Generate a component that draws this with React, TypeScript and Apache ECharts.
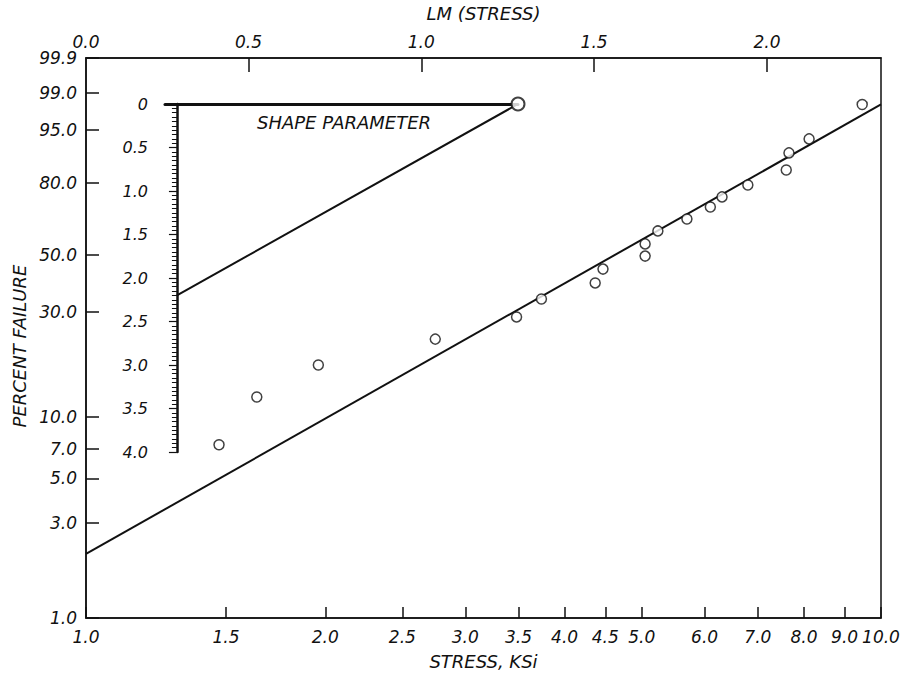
import React, { useEffect, useRef } from "react";
import * as echarts from "echarts";

// ---- data ----
const STRESS_TICKS = [1.0, 1.5, 2.0, 2.5, 3.0, 3.5, 4.0, 4.5, 5.0, 6.0, 7.0, 8.0, 9.0, 10.0];
const LM_TICKS = [0.0, 0.5, 1.0, 1.5, 2.0];
const PERCENT_TICKS = [1.0, 3.0, 5.0, 7.0, 10.0, 30.0, 50.0, 80.0, 95.0, 99.0, 99.9];

const stress = [1.47, 1.64, 1.96, 2.75, 3.48, 3.74, 4.37, 4.47, 5.05, 5.05, 5.24, 5.7, 6.1, 6.31, 6.8, 7.6, 7.66, 8.12, 9.47];
const percentFailure = [7.3, 12.4, 17.5, 22.9, 28.6, 34.0, 39.4, 44.5, 49.6, 54.6, 60.1, 65.2, 70.3, 74.5, 79.2, 84.6, 89.8, 93.2, 98.2];

const fitStress = [1.0, 10.0];
const fitPercent = [2.1, 98.2];

const shapeParameter = 2.2;
const SHAPE_MIN = 0;
const SHAPE_MAX = 4;

const LM_MIN = 0.03;
const LM_MAX = 2.33;

// ---- scale transforms (log stress, Weibull probability) ----
const lg = (s: number) => Math.log10(s);
const wb = (p: number) => Math.log(-Math.log(1 - p / 100));
const invWb = (w: number) => (1 - Math.exp(-Math.exp(w))) * 100;

const INK = "#111";
const FONT = "DejaVu Sans";

const labelStyle = {
  color: INK,
  fontFamily: FONT,
  fontStyle: "italic" as const,
  fontSize: 17,
};
const titleStyle = { ...labelStyle, fontSize: 18 };

export default function App() {
  const ref = useRef<HTMLDivElement>(null);

  useEffect(() => {
    document.body.style.margin = "0";
    if (!ref.current) return;
    const chart = echarts.init(ref.current, undefined, { renderer: "svg" });

    const points = stress.map((s, i) => [lg(s), wb(percentFailure[i])]);
    const fit = fitStress.map((s, i) => [lg(s), wb(fitPercent[i])]);

    const option: any = {
      animation: false,
      backgroundColor: "#fff",
      grid: [
        {
          left: 86,
          right: 26,
          top: 58,
          bottom: 57,
          show: true,
          borderColor: INK,
          borderWidth: 1.5,
          backgroundColor: "transparent",
          containLabel: false,
          outerBoundsMode: "none",
        },
        {
          left: 165,
          top: 104,
          width: 353,
          height: 348,
          containLabel: false,
          outerBoundsMode: "none",
        },
      ],
      xAxis: [
        {
          type: "value",
          gridIndex: 0,
          position: "bottom",
          min: lg(STRESS_TICKS[0]),
          max: lg(STRESS_TICKS[STRESS_TICKS.length - 1]),
          name: "STRESS, KSi",
          nameLocation: "middle",
          nameGap: 34,
          nameTextStyle: { ...titleStyle },
          axisLine: { show: true, onZero: false, lineStyle: { color: INK, width: 1.5 } },
          axisTick: {
            show: true,
            inside: true,
            length: 11,
            lineStyle: { color: INK, width: 1.5 },
            customValues: STRESS_TICKS.map(lg),
          },
          axisLabel: {
            ...labelStyle,
            margin: 10,
            customValues: STRESS_TICKS.map(lg),
            formatter: (v: number) => Math.pow(10, v).toFixed(1),
          },
          splitLine: { show: false },
        },
        {
          type: "value",
          gridIndex: 0,
          position: "top",
          min: LM_MIN,
          max: LM_MAX,
          name: "LM (STRESS)",
          nameLocation: "middle",
          nameGap: 36,
          nameTextStyle: { ...titleStyle },
          axisLine: { show: true, onZero: false, lineStyle: { color: INK, width: 1.5 } },
          axisTick: {
            show: true,
            inside: true,
            length: 14,
            lineStyle: { color: INK, width: 1.5 },
            customValues: LM_TICKS.filter((v) => v > LM_MIN),
          },
          axisLabel: {
            ...labelStyle,
            margin: 8,
            customValues: LM_TICKS.map((v) => Math.max(v, LM_MIN)),
            formatter: (v: number) => v.toFixed(1),
          },
          splitLine: { show: false },
        },
        {
          type: "value",
          gridIndex: 1,
          position: "top",
          min: -0.035,
          max: 1,
          axisLine: { show: true, onZero: true, lineStyle: { color: INK, width: 3 } },
          axisTick: { show: false },
          axisLabel: { show: false },
          splitLine: { show: false },
        },
      ],
      yAxis: [
        {
          type: "value",
          gridIndex: 0,
          min: wb(PERCENT_TICKS[0]),
          max: wb(PERCENT_TICKS[PERCENT_TICKS.length - 1]),
          axisLine: { show: true, onZero: false, lineStyle: { color: INK, width: 1.5 } },
          axisTick: {
            show: true,
            inside: true,
            length: 13,
            lineStyle: { color: INK, width: 1.5 },
            customValues: PERCENT_TICKS.map(wb),
          },
          axisLabel: {
            ...labelStyle,
            margin: 9,
            customValues: PERCENT_TICKS.map(wb),
            formatter: (v: number) => invWb(v).toFixed(1),
          },
          splitLine: { show: false },
        },
        {
          type: "value",
          gridIndex: 1,
          inverse: true,
          min: SHAPE_MIN,
          max: SHAPE_MAX,
          interval: 0.5,
          position: "left",
          axisLine: { show: true, onZero: true, lineStyle: { color: INK, width: 2.5 } },
          axisTick: { show: true, inside: false, length: 8, lineStyle: { color: INK, width: 1.2 } },
          minorTick: { show: true, splitNumber: 10, length: 5, lineStyle: { color: INK, width: 1 } },
          axisLabel: {
            ...labelStyle,
            fontSize: 16,
            margin: 17,
            formatter: (v: number) => (v === 0 ? "0" : v.toFixed(1)),
          },
          splitLine: { show: false },
          minorSplitLine: { show: false },
        },
      ],
      graphic: [
        {
          type: "text",
          x: 344,
          y: 122,
          style: {
            text: "SHAPE PARAMETER",
            fill: INK,
            font: `italic 18px "${FONT}"`,
            align: "center",
            verticalAlign: "middle",
          },
        },
        {
          type: "text",
          x: 19,
          y: 346,
          rotation: Math.PI / 2,
          style: {
            text: "PERCENT FAILURE",
            fill: INK,
            font: `italic 18px "${FONT}"`,
            align: "center",
            verticalAlign: "middle",
          },
        },
      ],
      series: [
        {
          type: "line",
          xAxisIndex: 0,
          yAxisIndex: 0,
          data: fit,
          showSymbol: false,
          lineStyle: { color: INK, width: 2 },
          z: 2,
        },
        {
          type: "scatter",
          xAxisIndex: 0,
          yAxisIndex: 0,
          data: points,
          symbol: "circle",
          symbolSize: 10,
          itemStyle: { color: "#fff", borderColor: INK, borderWidth: 1.5 },
          z: 3,
        },
        {
          type: "line",
          xAxisIndex: 2,
          yAxisIndex: 1,
          data: [
            [1, SHAPE_MIN],
            [0, shapeParameter],
          ],
          showSymbol: false,
          clip: false,
          lineStyle: { color: INK, width: 2 },
          z: 2,
        },
        {
          type: "scatter",
          xAxisIndex: 2,
          yAxisIndex: 1,
          data: [[1, SHAPE_MIN]],
          symbol: "circle",
          symbolSize: 13,
          clip: false,
          itemStyle: { color: "#fff", borderColor: INK, borderWidth: 2 },
          z: 4,
        },
      ],
    };

    chart.setOption(option);
    return () => chart.dispose();
  }, []);

  return <div ref={ref} style={{ width: 907, height: 675 }} />;
}
